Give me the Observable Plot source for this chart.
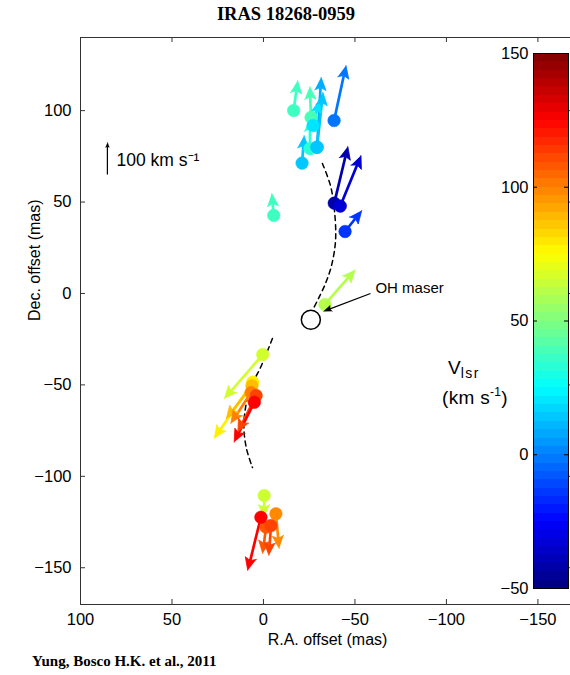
<!DOCTYPE html>
<html><head><meta charset="utf-8">
<script src="https://cdn.jsdelivr.net/npm/d3@7"></script>
<script src="https://cdn.jsdelivr.net/npm/@observablehq/plot@0.6"></script>
<style>
html,body{margin:0;padding:0;background:#fff;width:570px;height:675px;overflow:hidden;position:relative;font-family:"Liberation Sans",Arial,sans-serif;}
#title{position:absolute;left:0;top:0;width:572px;height:28px;text-align:center;font:bold 18.5px "Liberation Serif","Times New Roman",serif;line-height:28px;color:#000;}
#chart{position:absolute;left:0;top:28px;width:580px;}
#cbar{position:absolute;left:440px;top:40px;width:140px;}
#chart svg,#cbar svg{max-width:none !important;}
#caption{position:absolute;left:32px;top:653px;font:bold 15px "Liberation Serif","Times New Roman",serif;color:#000;}
#vl1{position:absolute;left:448px;top:357px;font:19px "Liberation Sans",Arial,sans-serif;}
#vl2{position:absolute;left:442px;top:385px;font:19px "Liberation Sans",Arial,sans-serif;letter-spacing:0.3px;}
#vl1 sub{font-size:14px;vertical-align:-4px;letter-spacing:1.5px;}
#vl2 sup{font-size:12px;vertical-align:8px;}
</style></head>
<body>
<div id="title">IRAS 18268-0959</div>
<div id="chart"></div>
<div id="cbar"></div>
<div id="vl1">V<sub>lsr</sub></div>
<div id="vl2">(km s<sup>-1</sup>)</div>
<div id="caption">Yung, Bosco H.K. et al., 2011</div>
<script>
// ---- data ----
const xTicks = [100, 50, 0, -50, -100, -150];
const yTicks = [100, 50, 0, -50, -100, -150];
const cbTicks = [-50, 0, 50, 100, 150];

// maser spots: R.A. offset (mas), Dec. offset (mas), Vlsr (km/s), proper motion (km/s)
const spotRA   = [-16.5, -26.0, -25.4, -27.1, -29.3, -29.3, -21.1, -38.6, -38.7, -42.0, -44.6, -5.6, -33.6,
                  0.4, 5.9, 6.3, 6.8, 4.0, 5.0,
                  -0.4, -6.8, -1.4, -4.1, 1.4];
const spotDec  = [100.1, 96.3, 79.2, 91.9, 80.0, 80.0, 71.3, 94.6, 49.4, 47.8, 33.9, 42.7, -6.0,
                  -33.4, -48.5, -50.5, -54.2, -55.8, -59.5,
                  -110.5, -120.5, -127.8, -126.9, -122.4];
const spotVlsr = [37, 39, 33, 20, 9, 14, 14, -2, -41, -33, -15, 37, 60,
                  66, 78, 88, 100, 112, 125,
                  65, 98, 108, 112, 125];
const pmRA     = [-12.6, 4.0, 0.0, -18.9, -12.6, -18.3, -6.3, -37.1, -42.3, -64.6, -52.0, 6.3, -94.3,
                  120.0, 120.0, 80.0, 62.9, 57.1, 62.9,
                  0.0, -10.3, 10.3, 6.3, 41.1];
const pmDec    = [93.7, 96.6, 94.3, 78.3, 218.3, 171.4, 86.3, 172.0, 177.1, 158.3, 65.7, 68.6, 108.6,
                  -138.3, -176.0, -102.9, -96.6, -114.3, -124.6,
                  -68.6, -108.6, -82.3, -93.7, -166.3];

// dashed arcs (R.A., Dec.) in mas
const arcNorth = [[-32.2, 71.1], [-36.6, 59.1], [-38.8, 45.4], [-39.4, 29.0], [-37.2, 15.3], [-33.9, 5.5], [-30.1, -2.7], [-27.3, -8.2]];
const arcSouth = [[-4.9, -24.6], [1.6, -40.5], [7.1, -51.4], [9.8, -62.4], [10.7, -73.3], [9.3, -84.8], [6.0, -95.2]];

// OH maser position and annotation
const ohMaser = {ra: -25.9, dec: -14.4};
const ohLabel = {ra: -61.2, dec: 2.9, text: "OH maser"};
const ohArrow = {ra: -58.5, dec: 0.0, tra: -32.8, tdec: -9.8};

// 100 km/s reference vector
const refVec = {ra: 85.3, dec: 65.1, vRA: 0, vDec: 100, text: "100 km s\u207B\u00B9", tra: 80.3, tdec: 72.8};

const masPerKms = 0.175;

// ---- jet colormap ----
const clamp = v => Math.max(0, Math.min(1, v));
const jet = t => `rgb(${Math.round(255*clamp(1.5-Math.abs(4*t-3)))},${Math.round(255*clamp(1.5-Math.abs(4*t-2)))},${Math.round(255*clamp(1.5-Math.abs(4*t-1)))})`;
const colorOpts = {type: "linear", domain: [-50, 150], interpolate: jet};

// ---- derived geometry ----
const spots = spotRA.map((r, i) => ({
  id: i, ra: r, dec: spotDec[i], v: spotVlsr[i],
  tx: r + pmRA[i]*masPerKms, ty: spotDec[i] + pmDec[i]*masPerKms
}));

function arrowGeom(x0, y0, x1, y1, L, Wd, notch) {
  const dx = x1 - x0, dy = y1 - y0, len = Math.hypot(dx, dy) || 1;
  const ux = dx/len, uy = dy/len, px = -uy, py = ux;
  const bx = x1 - ux*L, by = y1 - uy*L;
  const nx = x1 - ux*L*notch, ny = y1 - uy*L*notch;
  return {nx, ny, poly: [[x1, y1], [bx + px*Wd, by + py*Wd], [nx, ny], [bx - px*Wd, by - py*Wd]]};
}

const shafts = [], heads = [];
spots.forEach(s => {
  const g = arrowGeom(s.ra, s.dec, s.tx, s.ty, 7.0, 3.1, 0.8);
  shafts.push({x1: s.ra, y1: s.dec, x2: g.nx, y2: g.ny, v: s.v});
  g.poly.forEach(p => heads.push({id: s.id, x: p[0], y: p[1], v: s.v}));
});

const blackShafts = [], blackHeads = [];
{
  const tx = refVec.ra + refVec.vRA*masPerKms, ty = refVec.dec + refVec.vDec*masPerKms;
  const g = arrowGeom(refVec.ra, refVec.dec, tx, ty, 2.6, 1.0, 0.9);
  blackShafts.push({x1: refVec.ra, y1: refVec.dec, x2: g.nx, y2: g.ny});
  g.poly.forEach(p => blackHeads.push({id: "ref", x: p[0], y: p[1]}));
  const g2 = arrowGeom(ohArrow.ra, ohArrow.dec, ohArrow.tra, ohArrow.tdec, 4.5, 1.7, 0.85);
  blackShafts.push({x1: ohArrow.ra, y1: ohArrow.dec, x2: g2.nx, y2: g2.ny});
  g2.poly.forEach(p => blackHeads.push({id: "oh", x: p[0], y: p[1]}));
}

// ---- main plot ----
const W = 574, H = 622, ML = 80, MR = 0, MT = 9, MB = 46;
const plotW = W - ML - MR, plotH = H - MT - MB;

const chart = Plot.plot({
  width: W, height: H,
  marginLeft: ML, marginRight: MR, marginTop: MT, marginBottom: MB,
  x: {domain: [100, -170]},
  y: {domain: [-170.1, 140]},
  color: colorOpts,
  style: {fontSize: "16px", fontFamily: "'Liberation Sans', Arial, sans-serif", color: "#000", background: "transparent", overflow: "visible", maxWidth: "none"},
  marks: [
    Plot.frame({stroke: "#333", strokeWidth: 1}),
    Plot.ruleX(xTicks, {x: d => d, insetTop: plotH - 5, stroke: "#333"}),
    Plot.ruleX(xTicks, {x: d => d, insetBottom: plotH - 5, stroke: "#333"}),
    Plot.ruleY(yTicks, {y: d => d, insetRight: plotW - 5, stroke: "#333"}),
    Plot.ruleY(yTicks, {y: d => d, insetLeft: plotW - 5, stroke: "#333"}),
    Plot.axisX({ticks: xTicks, tickSize: 0, tickPadding: 9, label: null, fontSize: 16.5}),
    Plot.axisY({ticks: yTicks, tickSize: 0, tickPadding: 9, label: null, fontSize: 16.5}),
    Plot.text(["R.A. offset (mas)"], {text: d => d, frameAnchor: "bottom", dy: 40, fontSize: 16}),
    Plot.text(["Dec. offset (mas)"], {text: d => d, frameAnchor: "left", dx: -46, rotate: -90, fontSize: 16}),
    // dashed arcs
    Plot.line(arcNorth, {x: d => d[0], y: d => d[1], curve: "catmull-rom", stroke: "#000", strokeWidth: 1.5, strokeDasharray: "5,4"}),
    Plot.line(arcSouth, {x: d => d[0], y: d => d[1], curve: "catmull-rom", stroke: "#000", strokeWidth: 1.5, strokeDasharray: "5,4"}),
    // OH maser
    Plot.dot([ohMaser], {x: "ra", y: "dec", r: 9.5, stroke: "#000", strokeWidth: 1.5, fill: "#fff"}),
    // maser proper motions
    Plot.link(shafts, {x1: "x1", y1: "y1", x2: "x2", y2: "y2", stroke: "v", strokeWidth: 2.7}),
    Plot.line(heads, {x: "x", y: "y", z: "id", fill: "v", stroke: "v", strokeWidth: 0.8, strokeLinejoin: "miter"}),
    Plot.dot(spots, {x: "ra", y: "dec", r: 6.3, fill: "v", stroke: "v", strokeWidth: 0.5}),
    // black annotation arrows
    Plot.link(blackShafts, {x1: "x1", y1: "y1", x2: "x2", y2: "y2", stroke: "#000", strokeWidth: 1.2}),
    Plot.line(blackHeads, {x: "x", y: "y", z: "id", fill: "#000", stroke: "#000", strokeWidth: 0.5}),
    Plot.text([ohLabel], {x: "ra", y: "dec", text: "text", textAnchor: "start", fontSize: 15}),
    Plot.text([refVec], {x: "tra", y: "tdec", text: "text", textAnchor: "start", fontSize: 17.5})
  ]
});
document.getElementById("chart").appendChild(chart);

// ---- colorbar ----
const nLevels = 64;
const levels = d3.range(nLevels).map(i => ({
  y1: -50 + i*200/nLevels, y2: -50 + (i + 1)*200/nLevels, v: -50 + (i + 0.5)*200/nLevels
}));
const cbW = 135, cbH = 560, cbML = 93, cbMR = 7, cbMT = 13, cbMB = 12;
const barW = cbW - cbML - cbMR;
const cbar = Plot.plot({
  width: cbW, height: cbH,
  marginLeft: cbML, marginRight: cbMR, marginTop: cbMT, marginBottom: cbMB,
  x: {domain: [0, 1], axis: null},
  y: {domain: [-50, 150]},
  color: colorOpts,
  style: {fontSize: "16px", fontFamily: "'Liberation Sans', Arial, sans-serif", color: "#000", background: "transparent", overflow: "visible", maxWidth: "none"},
  marks: [
    Plot.rect(levels, {x1: 0, x2: 1, y1: "y1", y2: "y2", fill: "v", shapeRendering: "crispEdges"}),
    Plot.ruleY(cbTicks, {y: d => d, insetRight: barW - 4, stroke: "#000"}),
    Plot.ruleY(cbTicks, {y: d => d, insetLeft: barW - 4, stroke: "#000"}),
    Plot.frame({stroke: "#000", strokeWidth: 1}),
    Plot.axisY({ticks: cbTicks, tickSize: 0, tickPadding: 5, label: null, fontSize: 16.5})
  ]
});
document.getElementById("cbar").appendChild(cbar);
</script>
</body></html>
